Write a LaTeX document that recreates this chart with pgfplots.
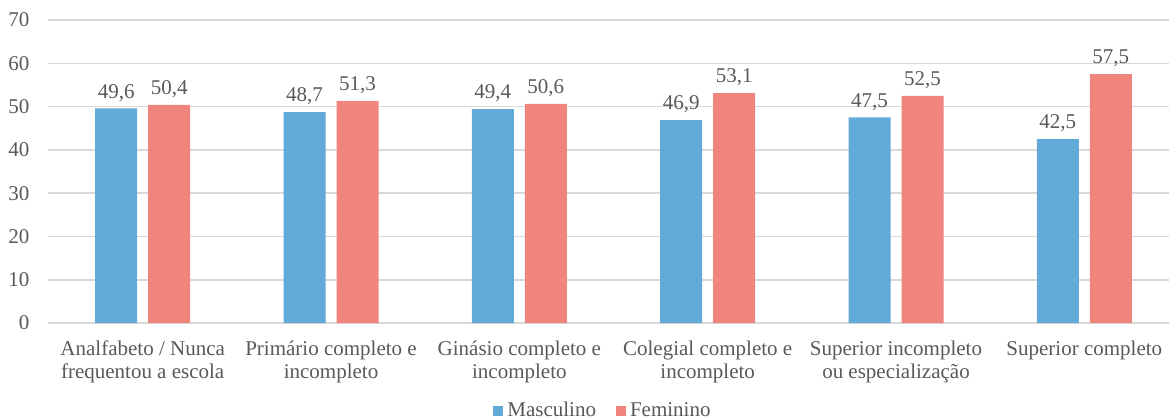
\documentclass[border=0pt]{standalone}
\usepackage{fontspec}
\setmainfont{Liberation Serif}
\usepackage{pgfplots}
\pgfplotsset{compat=1.18}
\definecolor{cblue}{HTML}{62ABD8}
\definecolor{cred}{HTML}{F0857E}
\definecolor{ctext}{HTML}{595959}
\definecolor{cgrid}{HTML}{D9D9D9}
\begin{document}
\begin{tikzpicture}
\useasboundingbox (-24.25pt,-48pt) rectangle (560.25pt,161.5pt);
\begin{axis}[
  at={(0,0)}, anchor=south west,
  scale only axis, width=565pt, height=151.5pt,
  ybar=5.5pt, bar width=21pt,
  xmin=-0.5, xmax=5.5, ymin=0, ymax=70,
  ytick={0,10,...,70},
  xtick={0,1,2,3,4,5},
  xticklabels={Analfabeto / Nunca\\frequentou a escola, Primário completo e\\incompleto, Ginásio completo e\\incompleto, Colegial completo e\\incompleto, Superior incompleto\\ou especialização, Superior completo},
  font=\fontsize{10.5}{11.5}\selectfont,
  every tick label/.append style={text=ctext},
  xticklabel style={align=center, font=\fontsize{10.5}{11.5}\selectfont, yshift=-5.5pt},
  yticklabel style={xshift=-6pt},
  /pgf/number format/assume math mode=true,
  axis line style={draw=none},
  major tick length=0pt,
  ymajorgrids, grid style={cgrid, line width=0.8pt},
  nodes near coords,
  nodes near coords style={text=ctext, font=\fontsize{10.5}{11.5}\selectfont, /pgf/number format/.cd, use comma, fixed, fixed zerofill, precision=1, assume math mode=true},
  legend style={at={(0.4916,-0.29)}, anchor=center, draw=none, legend columns=2, font=\fontsize{10.5}{11.5}\selectfont, text=ctext, /tikz/every even column/.append style={column sep=8pt}},
  legend image code/.code={\fill[#1] (0pt,-2.5pt) rectangle (5pt,2.5pt);},
]
\addplot[fill=cblue, draw=none] coordinates {(0,49.6) (1,48.7) (2,49.4) (3,46.9) (4,47.5) (5,42.5)};
\addplot[fill=cred, draw=none] coordinates {(0,50.4) (1,51.3) (2,50.6) (3,53.1) (4,52.5) (5,57.5)};
\legend{Masculino, Feminino}
\end{axis}
\end{tikzpicture}
\end{document}
